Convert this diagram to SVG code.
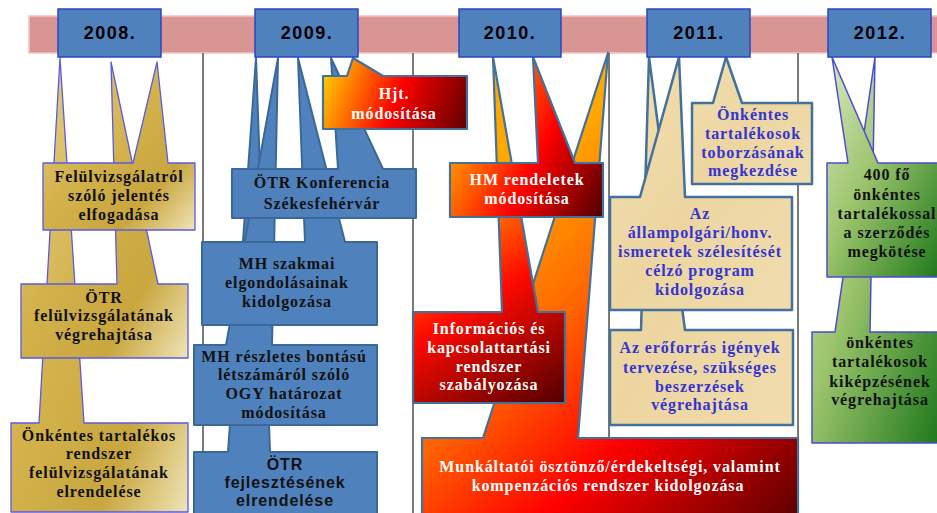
<svg xmlns="http://www.w3.org/2000/svg" width="937" height="513" viewBox="0 0 937 513">
<defs>
<linearGradient id="gold" x1="0" y1="0" x2="1" y2="1">
<stop offset="0" stop-color="#e9d48c"/><stop offset="0.45" stop-color="#d3b24c"/><stop offset="0.75" stop-color="#c9a63e"/><stop offset="1" stop-color="#efe4b8"/>
</linearGradient>
<linearGradient id="green" x1="0" y1="0" x2="1" y2="1">
<stop offset="0" stop-color="#d8e8c2"/><stop offset="0.45" stop-color="#9cc46c"/><stop offset="1" stop-color="#1f781b"/>
</linearGradient>
<linearGradient id="tan" x1="0" y1="0" x2="1" y2="1">
<stop offset="0" stop-color="#f2dfb2"/><stop offset="0.5" stop-color="#ecd5a0"/><stop offset="1" stop-color="#f0dcae"/>
</linearGradient>
<linearGradient id="fHjt" gradientUnits="userSpaceOnUse" x1="323" y1="76" x2="467" y2="129">
<stop offset="0" stop-color="#ffcc00"/><stop offset="0.5" stop-color="#ff0000"/><stop offset="1" stop-color="#600000"/>
</linearGradient>
<linearGradient id="fHM" gradientUnits="userSpaceOnUse" x1="450" y1="140" x2="603" y2="217">
<stop offset="0" stop-color="#ffa800"/><stop offset="0.5" stop-color="#ff0000"/><stop offset="1" stop-color="#500000"/>
</linearGradient>
<linearGradient id="fInfo" gradientUnits="userSpaceOnUse" x1="440" y1="200" x2="565" y2="403">
<stop offset="0" stop-color="#ffa800"/><stop offset="0.45" stop-color="#ff0a00"/><stop offset="1" stop-color="#500000"/>
</linearGradient>
<linearGradient id="fMunk" gradientUnits="userSpaceOnUse" x1="500" y1="200" x2="798" y2="513">
<stop offset="0" stop-color="#ffa800"/><stop offset="0.3" stop-color="#ff6400"/><stop offset="0.6" stop-color="#ff0000"/><stop offset="1" stop-color="#600000"/>
</linearGradient>
<style>
.grid{stroke:#595959;stroke-width:1.6;fill:none}
.year{fill:#4f81bd;stroke:#2e46c0;stroke-width:1.5}
.yt{font-family:"Liberation Sans",Arial,sans-serif;font-weight:bold;font-size:18px;letter-spacing:1.5px;fill:#000;text-anchor:middle}
.g{fill:url(#gold);stroke:#5a5ae6;stroke-width:1.3;stroke-linejoin:round}
.b{fill:#4f81bd;stroke:#3a6899;stroke-width:2;stroke-linejoin:round}
.t{fill:url(#tan);stroke:#41719c;stroke-width:2.5;stroke-linejoin:round}
.gr{fill:url(#green);stroke:#4b4bd8;stroke-width:1.5;stroke-linejoin:round}
.f{stroke:#41719c;stroke-width:2.2;stroke-linejoin:round}
text{font-family:"Liberation Serif","Times New Roman",serif;font-weight:bold;font-size:16px;letter-spacing:0.9px;text-anchor:middle}
.k{fill:#111}
.w{fill:#fff}
.bl{fill:#3434d2}
.sans{font-family:"Liberation Sans",Arial,sans-serif}
</style>
</defs>
<rect width="937" height="513" fill="#fff"/>
<g id="timeline">
<rect x="29" y="16" width="910" height="37" fill="#d99594" stroke="#f2c4c4" stroke-width="1.5"/>
</g>
<g id="gridlines">
<line class="grid" x1="203" y1="53" x2="203" y2="513"/>
<line class="grid" x1="413" y1="53" x2="413" y2="513"/>
<line class="grid" x1="609" y1="53" x2="609" y2="513"/>
<line class="grid" x1="798" y1="53" x2="798" y2="513"/>
</g>
<g id="n2008-3"><path class="g" d="M11,423 L39,423 L60,58 L84,423 L188,423 L188,512 L11,512 Z"/>
<text class="k" x="99" y="441">Önkéntes tartalékos</text><text class="k" x="99" y="459">rendszer</text><text class="k" x="99" y="478">felülvizsgálatának</text><text class="k" x="99" y="497">elrendelése</text></g>
<g id="n2008-2"><path class="g" d="M21,284 L117,284 L111,62 L158,284 L188,284 L188,358 L21,358 Z"/>
<text class="k" x="104" y="303">ÖTR</text><text class="k" x="104" y="321">felülvizsgálatának</text><text class="k" x="104" y="340">végrehajtása</text></g>
<g id="n2008-1"><path class="g" d="M43,163 L133,163 L157,62 L168,163 L195,163 L195,230 L43,230 Z"/>
<text class="k" x="119" y="182">Felülvizsgálatról</text><text class="k" x="119" y="201">szóló jelentés</text><text class="k" x="119" y="220">elfogadása</text></g>
<g id="n2009-5"><path class="b" d="M194,452 L228,452 L256,58 L270,452 L377,452 L377,520 L194,520 Z"/>
<text class="k sans" x="285" y="470">ÖTR</text><text class="k sans" x="285" y="488">fejlesztésének</text><text class="k sans" x="285" y="506">elrendelése</text></g>
<g id="n2009-4"><path class="b" d="M194,345 L226,345 L278,58 L272,345 L377,345 L377,425 L194,425 Z"/>
<text class="k" x="284" y="362">MH részletes bontású</text><text class="k" x="284" y="380">létszámáról szóló</text><text class="k" x="284" y="399">OGY határozat</text><text class="k" x="284" y="418">módosítása</text></g>
<g id="n2009-3"><path class="b" d="M202,242 L305,242 L298,58 L345,242 L377,242 L377,325 L202,325 Z"/>
<text class="k" x="287" y="269">MH szakmai</text><text class="k" x="287" y="288">elgondolásainak</text><text class="k" x="287" y="307">kidolgozása</text></g>
<g id="n2009-2"><path class="b" d="M232,169 L338,169 L331,58 L383,169 L416,169 L416,218 L232,218 Z"/>
<text class="k" x="322" y="188">ÖTR Konferencia</text><text class="k" x="322" y="209">Székesfehérvár</text></g>
<g id="n2009-1"><path class="f" fill="url(#fHjt)" d="M323,76 L347,76 L353,58 L383,76 L467,76 L467,129 L323,129 Z"/>
<text class="w" x="394" y="99">Hjt.</text><text class="w" x="394" y="119">módosítása</text></g>
<g id="n2010-3"><path class="f" fill="url(#fMunk)" d="M422,438 L483,438 L608,53 L578,438 L798,438 L798,520 L422,520 Z"/>
<text class="w" x="610" y="472">Munkáltatói ösztönző/érdekeltségi, valamint</text><text class="w" x="608" y="491">kompenzációs rendszer kidolgozása</text></g>
<g id="n2010-2"><path class="f" fill="url(#fInfo)" d="M413,312 L502,312 L493,57 L538,312 L565,312 L565,403 L413,403 Z"/>
<text class="w" x="489" y="334">Információs és</text><text class="w" x="489" y="353">kapcsolattartási</text><text class="w" x="489" y="372">rendszer</text><text class="w" x="489" y="390">szabályozása</text></g>
<g id="n2010-1"><path class="f" fill="url(#fHM)" d="M450,163 L538,163 L533,57 L575,163 L603,163 L603,217 L450,217 Z"/>
<text class="w" x="527" y="185">HM rendeletek</text><text class="w" x="527" y="204">módosítása</text></g>
<g id="n2011-3"><path class="t" d="M610,330 L641,330 L649,57 L685,330 L793,330 L793,425 L610,425 Z"/>
<text class="bl" x="700" y="353">Az erőforrás igények</text><text class="bl" x="700" y="373">tervezése, szükséges</text><text class="bl" x="700" y="392">beszerzések</text><text class="bl" x="700" y="410">végrehajtása</text></g>
<g id="n2011-2"><path class="t" d="M610,197 L640,197 L679,57 L685,197 L792,197 L792,310 L610,310 Z"/>
<text class="bl" x="700" y="219">Az</text><text class="bl" x="700" y="238">állampolgári/honv.</text><text class="bl" x="700" y="257">ismeretek szélesítését</text><text class="bl" x="700" y="276">célzó program</text><text class="bl" x="700" y="295">kidolgozása</text></g>
<g id="n2011-1"><path class="t" d="M692,103 L713,103 L726,57 L742,103 L812,103 L812,184 L692,184 Z"/>
<text class="bl" x="753" y="120">Önkéntes</text><text class="bl" x="753" y="139">tartalékosok</text><text class="bl" x="753" y="158">toborzásának</text><text class="bl" x="753" y="176">megkezdése</text></g>
<g id="n2012-2"><path class="gr" d="M812,332 L835,332 L875,57 L870,332 L940,332 L940,443 L812,443 Z"/>
<text class="k" x="880" y="348">önkéntes</text><text class="k" x="880" y="367">tartalékosok</text><text class="k" x="880" y="387">kiképzésének</text><text class="k" x="880" y="405">végrehajtása</text></g>
<g id="n2012-1"><path class="gr" d="M827,163 L848,163 L832,57 L878,163 L940,163 L940,277 L827,277 Z"/>
<text class="k" x="887" y="180">400 fő</text><text class="k" x="887" y="200">önkéntes</text><text class="k" x="887" y="219">tartalékossal</text><text class="k" x="887" y="238">a szerződés</text><text class="k" x="887" y="257">megkötése</text></g>
<g id="years">
<g id="y2008"><rect class="year" x="58" y="9" width="103" height="48"/><text class="yt" x="110" y="39">2008.</text></g>
<g id="y2009"><rect class="year" x="255" y="9" width="103" height="48"/><text class="yt" x="307" y="39">2009.</text></g>
<g id="y2010"><rect class="year" x="459" y="9" width="102" height="48"/><text class="yt" x="510" y="39">2010.</text></g>
<g id="y2011"><rect class="year" x="647" y="9" width="103" height="48"/><text class="yt" x="699" y="39">2011.</text></g>
<g id="y2012"><rect class="year" x="828" y="9" width="103" height="48"/><text class="yt" x="880" y="39">2012.</text></g>
</g>
</svg>
